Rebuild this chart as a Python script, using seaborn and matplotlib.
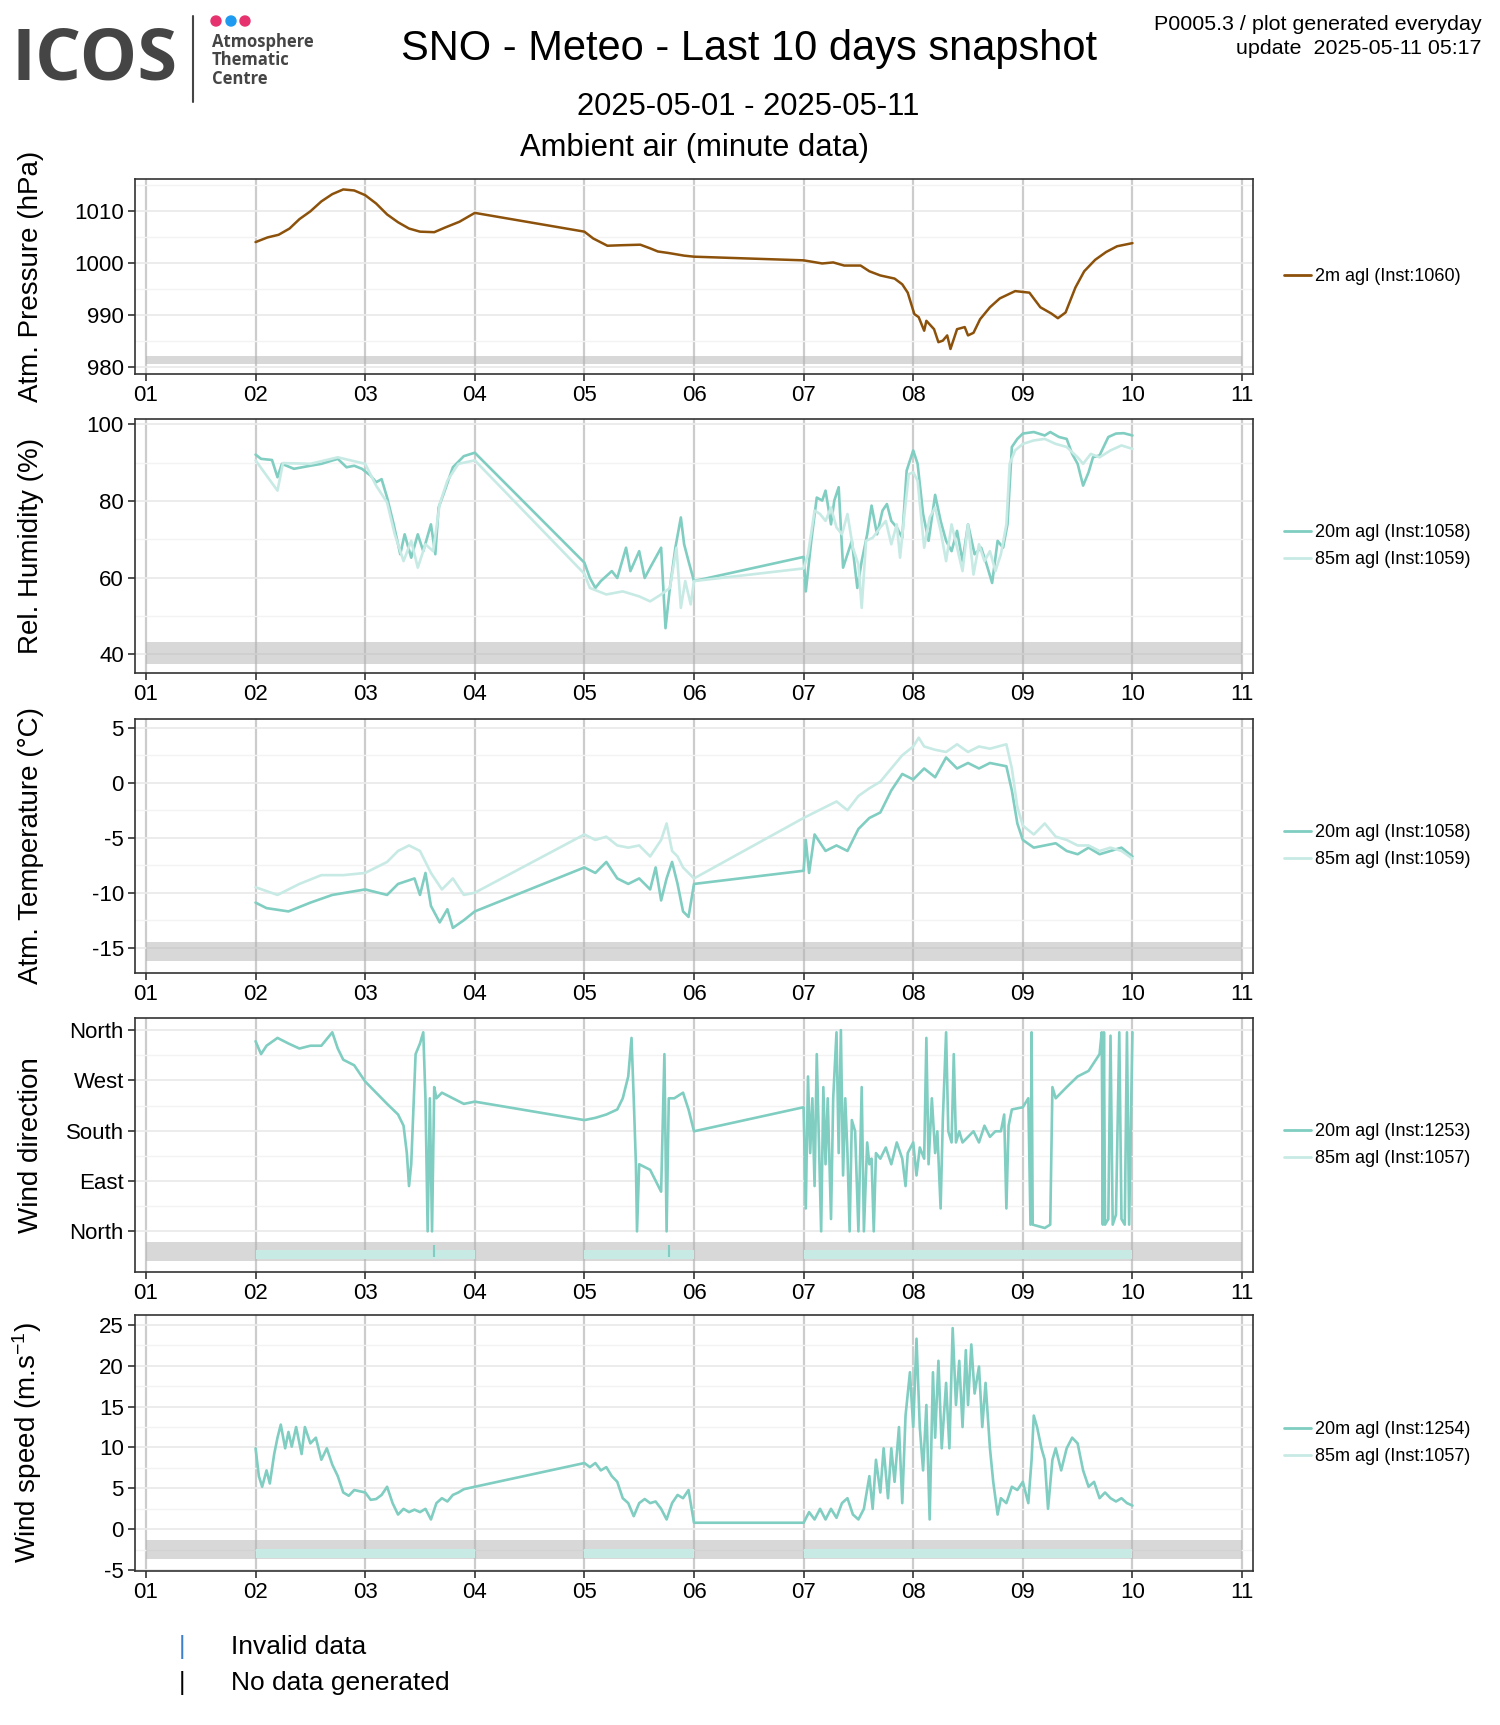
import numpy as np
import pandas as pd
import matplotlib
matplotlib.use("Agg")
import matplotlib.pyplot as plt
from matplotlib.lines import Line2D
from matplotlib.patches import Ellipse
import seaborn as sns

# ---- data (x = day of May 2025) ----
p_day = [2.0, 2.11, 2.21, 2.31, 2.40, 2.50, 2.60, 2.70, 2.80, 2.90, 3.00, 3.10, 3.20, 3.30, 3.40,
         3.50, 3.63, 3.73, 3.86, 4.0, 5.0, 5.08, 5.21, 5.34, 5.51, 5.60, 5.67, 5.77, 5.91, 6.0,
         7.0, 7.17, 7.27, 7.37, 7.52, 7.60, 7.70, 7.83, 7.90, 7.95, 8.01, 8.05, 8.10, 8.12, 8.19,
         8.23, 8.27, 8.31, 8.34, 8.40, 8.47, 8.50, 8.55, 8.61, 8.70, 8.79, 8.93, 9.06, 9.16, 9.26,
         9.32, 9.39, 9.48, 9.56, 9.66, 9.76, 9.86, 10.0]
p_hpa = [1004.0, 1004.9, 1005.4, 1006.6, 1008.4, 1009.9, 1011.8, 1013.2, 1014.1, 1013.9, 1013.0,
         1011.4, 1009.3, 1007.8, 1006.6, 1006.0, 1005.9, 1006.8, 1007.9, 1009.6, 1006.0, 1004.7,
         1003.3, 1003.4, 1003.5, 1002.8, 1002.2, 1001.9, 1001.4, 1001.2, 1000.5, 999.9, 1000.1,
         999.5, 999.5, 998.4, 997.6, 997.0, 995.9, 994.3, 990.2, 989.6, 987.0, 988.9, 987.3, 984.8,
         985.1, 986.1, 983.5, 987.3, 987.7, 986.1, 986.6, 989.2, 991.5, 993.2, 994.6, 994.3, 991.5,
         990.3, 989.4, 990.5, 995.3, 998.4, 1000.6, 1002.1, 1003.2, 1003.8]

rh20_day = [2.0, 2.05, 2.15, 2.2, 2.24, 2.35, 2.5, 2.6, 2.75, 2.83, 2.9, 2.97, 3.05, 3.1, 3.15, 3.2,
            3.26, 3.32, 3.36, 3.42, 3.48, 3.53, 3.6, 3.64, 3.67, 3.72, 3.8, 3.9, 4.0,
            5.0, 5.05, 5.1, 5.15, 5.25, 5.3, 5.38, 5.42, 5.5, 5.55, 5.6, 5.7, 5.74, 5.78, 5.83,
            5.88, 5.91, 5.95, 6.0,
            7.0, 7.02, 7.07, 7.12, 7.17, 7.2, 7.25, 7.28, 7.32, 7.36, 7.4, 7.44, 7.49, 7.53, 7.58,
            7.62, 7.67, 7.72, 7.76, 7.8, 7.85, 7.9, 7.94, 8.0, 8.04, 8.09, 8.14, 8.2, 8.25, 8.3,
            8.35, 8.4, 8.45, 8.5, 8.56, 8.62, 8.67, 8.72, 8.77, 8.82, 8.86, 8.9, 8.95, 9.0, 9.1,
            9.2, 9.25, 9.33, 9.4, 9.45, 9.5, 9.55, 9.6, 9.64, 9.7, 9.78, 9.85, 9.92, 10.0]
rh20_val = [92.1, 91.0, 90.7, 86.2, 89.7, 88.4, 89.2, 89.7, 91.0, 88.8, 89.2, 88.4, 86.6, 84.9, 85.7,
            80.9, 73.9, 66.1, 71.3, 65.2, 71.3, 66.9, 73.9, 66.1, 78.3, 82.2, 88.8, 91.7, 92.6,
            63.9, 59.9, 57.3, 59.1, 61.7, 59.9, 67.8, 61.7, 66.9, 59.9, 62.6, 67.8, 46.8, 57.3,
            67.8, 75.7, 68.7, 64.3, 59.1,
            65.4, 56.4, 69.6, 80.9, 80.1, 82.7, 73.9, 80.1, 83.6, 62.6, 66.1, 69.6, 57.3, 64.3,
            71.3, 78.8, 71.3, 77.5, 79.2, 74.8, 73.1, 70.4, 87.9, 93.2, 89.7, 76.6, 69.6, 81.6,
            74.8, 69.6, 66.9, 72.2, 64.3, 73.9, 66.1, 67.8, 63.4, 58.6, 69.6, 67.8, 73.9, 94.1,
            96.2, 97.6, 98.0, 97.1, 98.0, 96.7, 96.2, 92.3, 89.7, 84.0, 87.5, 91.4, 91.9, 96.7,
            97.6, 97.7, 97.1]
rh85_day = [2.0, 2.2, 2.25, 2.5, 2.75, 3.0, 3.1, 3.2, 3.27, 3.35, 3.42, 3.48, 3.55, 3.62, 3.68,
            3.75, 3.85, 4.0,
            5.0, 5.05, 5.2, 5.35, 5.5, 5.6, 5.7, 5.78, 5.84, 5.88, 5.92, 5.97, 6.0,
            7.0, 7.04, 7.1, 7.15, 7.2, 7.25, 7.3, 7.35, 7.4, 7.45, 7.5, 7.53, 7.57, 7.63, 7.7,
            7.75, 7.8, 7.85, 7.88, 7.92, 7.96, 8.0, 8.04, 8.1, 8.15, 8.2, 8.25, 8.3, 8.35, 8.4,
            8.45, 8.5, 8.55, 8.6, 8.65, 8.7, 8.75, 8.8, 8.85, 8.88, 8.93, 9.0, 9.1, 9.2, 9.3,
            9.4, 9.5, 9.55, 9.62, 9.7, 9.8, 9.9, 10.0]
rh85_val = [90.6, 82.7, 89.9, 89.7, 91.4, 89.7, 84.0, 79.6, 71.3, 64.3, 69.6, 62.6, 68.7, 66.9,
            79.2, 85.3, 89.7, 90.6,
            61.0, 57.3, 55.6, 56.4, 55.1, 53.8, 55.6, 57.3, 67.8, 52.1, 59.1, 53.0, 59.1,
            62.4, 66.1, 77.5, 76.6, 74.8, 78.3, 73.1, 71.3, 76.6, 67.8, 63.4, 52.1, 69.6, 70.4,
            73.1, 74.8, 68.7, 73.9, 65.2, 76.6, 87.0, 87.5, 85.3, 67.8, 75.7, 78.3, 72.2, 64.3,
            73.9, 67.8, 61.7, 73.9, 60.8, 68.7, 64.3, 66.9, 61.7, 66.1, 73.9, 89.7, 93.2, 94.9,
            95.8, 96.2, 94.9, 94.1, 91.4, 89.7, 92.3, 91.4, 93.2, 94.5, 93.6]

t20_day = [2.0, 2.1, 2.3, 2.5, 2.7, 3.0, 3.2, 3.3, 3.45, 3.5, 3.55, 3.6, 3.68, 3.75, 3.8, 3.9, 4.0,
           5.0, 5.1, 5.2, 5.3, 5.4, 5.5, 5.6, 5.65, 5.7, 5.75, 5.8, 5.85, 5.9, 5.95, 6.0,
           7.0, 7.02, 7.05, 7.1, 7.2, 7.3, 7.4, 7.5, 7.6, 7.7, 7.8, 7.9, 8.0, 8.1, 8.2, 8.3,
           8.4, 8.5, 8.6, 8.7, 8.85, 8.9, 8.95, 9.0, 9.1, 9.2, 9.3, 9.4, 9.5, 9.6, 9.7, 9.8,
           9.9, 10.0]
t20_val = [-10.9, -11.4, -11.7, -10.9, -10.2, -9.7, -10.2, -9.2, -8.7, -10.2, -8.2, -11.2, -12.7,
           -11.5, -13.2, -12.5, -11.7,
           -7.7, -8.2, -7.2, -8.7, -9.2, -8.7, -9.7, -7.7, -10.7, -8.7, -7.2, -9.2, -11.7, -12.2,
           -9.2,
           -8.0, -5.2, -8.2, -4.7, -6.2, -5.7, -6.2, -4.2, -3.2, -2.7, -0.7, 0.8, 0.3, 1.3, 0.5,
           2.3, 1.3, 1.8, 1.3, 1.8, 1.5, -0.7, -3.7, -5.2, -5.9, -5.7, -5.5, -6.2, -6.5, -5.9,
           -6.5, -6.2, -5.9, -6.7]
t85_day = [2.0, 2.2, 2.4, 2.6, 2.8, 3.0, 3.2, 3.3, 3.4, 3.5, 3.6, 3.7, 3.8, 3.9, 4.0,
           5.0, 5.1, 5.2, 5.3, 5.4, 5.5, 5.6, 5.7, 5.75, 5.8, 5.85, 5.9, 6.0,
           7.0, 7.1, 7.2, 7.3, 7.4, 7.5, 7.6, 7.7, 7.8, 7.9, 8.0, 8.05, 8.1, 8.2, 8.3, 8.4, 8.5,
           8.6, 8.7, 8.85, 8.9, 8.95, 9.0, 9.1, 9.2, 9.3, 9.4, 9.5, 9.6, 9.7, 9.8, 9.9, 10.0]
t85_val = [-9.5, -10.2, -9.2, -8.4, -8.4, -8.2, -7.2, -6.2, -5.7, -6.2, -8.2, -9.7, -8.7, -10.2,
           -10.0,
           -4.7, -5.2, -4.9, -5.7, -5.9, -5.7, -6.7, -5.2, -3.7, -6.2, -6.7, -7.7, -8.7,
           -3.2, -2.7, -2.2, -1.7, -2.5, -1.2, -0.5, 0.1, 1.3, 2.5, 3.3, 4.1, 3.3, 3.0, 2.8, 3.5,
           2.8, 3.3, 3.1, 3.5, 1.3, -2.2, -3.9, -4.7, -3.7, -4.9, -5.2, -5.7, -5.7, -6.2, -5.9,
           -6.2, -6.9]

wd_day = [2.0, 2.05, 2.1, 2.2, 2.3, 2.4, 2.5, 2.6, 2.7, 2.75, 2.8, 2.9, 3.0, 3.1, 3.2, 3.3, 3.35,
          3.38, 3.4, 3.42, 3.44, 3.46, 3.5, 3.53, 3.55, 3.57, 3.59, 3.61, 3.63, 3.65, 3.7, 3.8,
          3.9, 4.0,
          5.0, 5.1, 5.2, 5.3, 5.35, 5.4, 5.43, 5.45, 5.47, 5.48, 5.5, 5.6, 5.7, 5.73, 5.75, 5.77,
          5.82, 5.9, 5.95, 6.0,
          7.0, 7.02, 7.04, 7.06, 7.08, 7.1, 7.12, 7.14, 7.16, 7.18, 7.2, 7.22, 7.25, 7.27, 7.3,
          7.32, 7.34, 7.36, 7.38, 7.4, 7.42, 7.44, 7.47, 7.5, 7.53, 7.55, 7.58, 7.6, 7.62, 7.64,
          7.66, 7.7, 7.75, 7.8, 7.85, 7.9, 7.93, 7.95, 8.0, 8.03, 8.06, 8.1, 8.12, 8.14, 8.17,
          8.2, 8.22, 8.25, 8.27, 8.3, 8.32, 8.35, 8.37, 8.39, 8.42, 8.45, 8.5, 8.55, 8.6, 8.65,
          8.7, 8.75, 8.8, 8.83, 8.85, 8.87, 8.9, 9.0, 9.05, 9.07, 9.08, 9.09, 9.2, 9.25, 9.27,
          9.3, 9.4, 9.5, 9.6, 9.7, 9.72, 9.73, 9.74, 9.75, 9.78, 9.8, 9.82, 9.85, 9.88, 9.9, 9.93,
          9.95, 9.97, 10.0]
wd_deg = [340, 317, 332, 346, 336, 327, 332, 332, 356, 327, 307, 297, 268, 248, 228, 209, 189,
          140, 81, 120, 218, 317, 336, 356, 238, 0, 238, 0, 258, 238, 248, 238, 228, 232,
          199, 203, 209, 218, 238, 277, 346, 238, 120, 0, 120, 110, 71, 317, 0, 238, 238, 248,
          218, 179,
          222, 41, 277, 140, 238, 81, 317, 159, 0, 258, 120, 238, 22, 238, 356, 140, 360, 100,
          238, 140, 0, 199, 179, 0, 258, 0, 159, 120, 130, 0, 140, 130, 150, 120, 159, 130, 81,
          140, 159, 100, 150, 130, 346, 120, 238, 140, 179, 41, 199, 356, 179, 159, 317, 159,
          179, 159, 169, 179, 159, 189, 169, 179, 179, 209, 41, 189, 218, 222, 238, 12, 356, 12,
          6, 12, 258, 238, 258, 277, 287, 317, 356, 12, 356, 12, 22, 350, 12, 30, 356, 22, 12,
          356, 12, 356]

ws_day = [2.0, 2.03, 2.06, 2.1, 2.13, 2.17, 2.2, 2.23, 2.27, 2.3, 2.33, 2.37, 2.42, 2.45, 2.5,
          2.55, 2.6, 2.65, 2.7, 2.75, 2.8, 2.85, 2.9, 3.0, 3.05, 3.1, 3.15, 3.2, 3.25, 3.3, 3.35,
          3.4, 3.45, 3.5, 3.55, 3.6, 3.65, 3.7, 3.75, 3.8, 3.85, 3.9, 4.0,
          5.0, 5.05, 5.1, 5.15, 5.2, 5.25, 5.3, 5.35, 5.4, 5.45, 5.5, 5.55, 5.6, 5.65, 5.7, 5.75,
          5.8, 5.85, 5.9, 5.95, 6.0,
          7.0, 7.05, 7.1, 7.15, 7.2, 7.25, 7.3, 7.35, 7.4, 7.45, 7.5, 7.55, 7.6, 7.63, 7.66, 7.7,
          7.73, 7.77, 7.8, 7.83, 7.87, 7.9, 7.93, 7.97, 8.0, 8.03, 8.06, 8.09, 8.12, 8.15, 8.18,
          8.2, 8.23, 8.26, 8.3, 8.33, 8.36, 8.39, 8.42, 8.45, 8.48, 8.5, 8.53, 8.56, 8.6, 8.63,
          8.66, 8.7, 8.73, 8.77, 8.8, 8.85, 8.9, 8.95, 9.0, 9.05, 9.08, 9.1, 9.13, 9.17, 9.2,
          9.23, 9.27, 9.3, 9.35, 9.4, 9.45, 9.5, 9.55, 9.6, 9.65, 9.7, 9.75, 9.8, 9.85, 9.9,
          9.95, 10.0]
ws_val = [9.9, 6.5, 5.2, 7.2, 5.6, 9.2, 11.2, 12.8, 9.9, 11.9, 10.1, 12.5, 9.2, 12.5, 10.5, 11.2,
          8.5, 9.9, 7.9, 6.5, 4.5, 4.1, 4.8, 4.5, 3.6, 3.7, 4.2, 5.2, 3.2, 1.8, 2.5, 2.1, 2.4,
          2.1, 2.5, 1.2, 3.2, 3.8, 3.4, 4.2, 4.5, 4.9, 5.2,
          8.1, 7.6, 8.1, 7.2, 7.6, 6.5, 5.8, 3.8, 3.2, 1.6, 3.2, 3.7, 3.2, 3.4, 2.5, 1.2, 3.2,
          4.2, 3.8, 4.8, 0.8,
          0.8, 2.1, 1.2, 2.5, 1.2, 2.5, 1.4, 3.2, 3.8, 1.8, 1.2, 2.5, 6.5, 2.5, 8.5, 4.5, 9.9,
          3.8, 9.9, 5.8, 12.5, 3.2, 13.9, 19.2, 12.5, 23.3, 12.5, 7.2, 15.2, 1.2, 19.2, 11.2,
          20.6, 9.9, 17.9, 9.9, 24.6, 15.2, 20.6, 12.5, 21.9, 15.2, 22.6, 16.6, 19.9, 12.5, 17.9,
          9.9, 5.8, 1.8, 3.8, 3.2, 5.2, 4.8, 5.8, 3.2, 8.5, 13.9, 12.5, 9.9, 8.5, 2.5, 8.5, 9.9,
          7.2, 9.9, 11.2, 10.5, 7.2, 5.2, 5.8, 3.8, 4.5, 3.8, 3.4, 3.8, 3.2, 2.9]

# days with wind data generated
cov_start = [2, 5, 7]
cov_end = [4, 6, 10]
invalid_wd_day = [3.63, 5.77]

day_ticks = list(range(1, 12))
day_labels = [f"{d:02d}" for d in day_ticks]

BROWN = "#8c510a"
TEAL = "#80cdc1"
LIGHT = "#c7eae5"

sns.set_theme(style="white")
plt.rcParams["font.family"] = ["Liberation Sans", "DejaVu Sans"]
plt.rcParams["mathtext.fontset"] = "custom"
plt.rcParams["mathtext.rm"] = "Liberation Sans"
plt.rcParams["mathtext.it"] = "Liberation Sans"
plt.rcParams["text.color"] = "black"
plt.rcParams["axes.labelcolor"] = "black"
plt.rcParams["xtick.color"] = "black"
plt.rcParams["ytick.color"] = "black"

fig = plt.figure(figsize=(15, 17.25), dpi=100)

W, H = 1500, 1725
def add_panel(top, bottom):
    return fig.add_axes([135 / W, 1 - bottom / H, 1118 / W, (bottom - top) / H])

def style(ax, ylim, yticks, ylabels, yminor, band, ylabel):
    ax.set_xlim(0.9, 11.1)
    ax.set_ylim(*ylim)
    ax.set_xticks(day_ticks)
    ax.set_xticklabels(day_labels)
    ax.set_yticks(yticks)
    ax.set_yticklabels(ylabels)
    ax.set_yticks(yminor, minor=True)
    ax.set_axisbelow(True)
    ax.grid(which="major", axis="y", color="#ebebeb", lw=1.3)
    ax.grid(which="minor", axis="y", color="#f3f3f3", lw=1.0)
    ax.grid(which="major", axis="x", color="#cccccc", lw=1.6)
    ax.tick_params(which="major", length=5, width=1.2, color="#333333", labelsize=16,
                   labelcolor="black", pad=3, left=True, bottom=True)
    ax.tick_params(which="minor", length=0)
    for s in ax.spines.values():
        s.set_color("#333333")
        s.set_linewidth(1.2)
    ax.fill_between([1, 11], band[0], band[1], color="#b3b3b3", alpha=0.5, lw=0, zorder=1.5)
    ax.set_xlabel("")
    ax.set_ylabel(ylabel, fontsize=20, color="black")
    ax.yaxis.set_label_coords(-0.081, 0.5)

def legend(ax, entries):
    handles = [Line2D([0], [0], color=c, lw=2) for _, c in entries]
    ax.legend(handles, [t for t, _ in entries], loc="center left", bbox_to_anchor=(1.016, 0.5),
              frameon=False, fontsize=13, handlelength=1.5, handletextpad=0.25, labelspacing=0.55,
              borderaxespad=0.3)

LW = 1.9

# 1 pressure
ax1 = add_panel(179, 374)
sns.lineplot(x=p_day, y=p_hpa, ax=ax1, color=BROWN, lw=1.8, estimator=None, sort=False)
style(ax1, (978.7, 1016.1), [980, 990, 1000, 1010], ["980", "990", "1000", "1010"],
      [985, 995, 1005, 1015], (980.6, 982.1), "Atm. Pressure (hPa)")
legend(ax1, [("2m agl (Inst:1060)", BROWN)])

# 2 humidity
ax2 = add_panel(419, 673)
sns.lineplot(x=rh20_day, y=rh20_val, ax=ax2, color=TEAL, lw=LW, estimator=None, sort=False)
sns.lineplot(x=rh85_day, y=rh85_val, ax=ax2, color=LIGHT, lw=LW, estimator=None, sort=False)
style(ax2, (35.1, 101.4), [40, 60, 80, 100], ["40", "60", "80", "100"],
      [50, 70, 90], (37.4, 43.2), "Rel. Humidity (%)")
legend(ax2, [("20m agl (Inst:1058)", TEAL), ("85m agl (Inst:1059)", LIGHT)])

# 3 temperature
ax3 = add_panel(719, 973)
sns.lineplot(x=t20_day, y=t20_val, ax=ax3, color=TEAL, lw=LW, estimator=None, sort=False)
sns.lineplot(x=t85_day, y=t85_val, ax=ax3, color=LIGHT, lw=LW, estimator=None, sort=False)
style(ax3, (-17.3, 5.8), [-15, -10, -5, 0, 5], ["-15", "-10", "-5", "0", "5"],
      [-12.5, -7.5, -2.5, 2.5], (-16.2, -14.5), "Atm. Temperature (°C)")
legend(ax3, [("20m agl (Inst:1058)", TEAL), ("85m agl (Inst:1059)", LIGHT)])

# 4 wind direction
ax4 = add_panel(1018, 1272)
sns.lineplot(x=wd_day, y=wd_deg, ax=ax4, color=TEAL, lw=LW, estimator=None, sort=False)
style(ax4, (-72.7, 381.6), [0, 90, 180, 270, 360], ["North", "East", "South", "West", "North"],
      [45, 135, 225, 315], (-53, -19.6), "Wind direction")
for a, b in zip(cov_start, cov_end):
    ax4.fill_between([a, b], -49, -33, color=LIGHT, lw=0, zorder=2)
ax4.vlines(invalid_wd_day, -45, -25, color=TEAL, lw=1.5, zorder=2.5)
legend(ax4, [("20m agl (Inst:1253)", TEAL), ("85m agl (Inst:1057)", LIGHT)])

# 5 wind speed
ax5 = add_panel(1315, 1571)
sns.lineplot(x=ws_day, y=ws_val, ax=ax5, color=TEAL, lw=LW, estimator=None, sort=False)
style(ax5, (-5.1, 26.2), [-5, 0, 5, 10, 15, 20, 25], ["-5", "0", "5", "10", "15", "20", "25"],
      [-2.5, 2.5, 7.5, 12.5, 17.5, 22.5], (-3.66, -1.25), "Wind speed (m.s$^{-1}$)")
for a, b in zip(cov_start, cov_end):
    ax5.fill_between([a, b], -3.5, -2.45, color=LIGHT, lw=0, zorder=2)
legend(ax5, [("20m agl (Inst:1254)", TEAL), ("85m agl (Inst:1057)", LIGHT)])

# titles
fig.text(749 / W, 1 - 49 / H, "SNO - Meteo - Last 10 days snapshot", fontsize=30,
         ha="center", va="center")
fig.text(748 / W, 1 - 107 / H, "2025-05-01 - 2025-05-11", fontsize=22.3, ha="center", va="center")
fig.text(694 / W, 1 - 148 / H, "Ambient air (minute data)", fontsize=22.3, ha="center", va="center")
fig.text(1482 / W, 1 - 24 / H, "P0005.3 / plot generated everyday", fontsize=15.4,
         ha="right", va="center")
fig.text(1482 / W, 1 - 49 / H, "update  2025-05-11 05:17", fontsize=15.4, ha="right", va="center")

# logo
fig.text(11 / W, 1 - 60 / H, "ICOS", fontsize=52, fontweight="bold", color="#454545",
         family="Open Sans", va="center", ha="left")
fig.add_artist(Line2D([193 / W, 193 / W], [1 - 16 / H, 1 - 102 / H], color="#454545", lw=1.5))
for cx, col in zip([216, 231, 245], ["#e6336f", "#1e9bf0", "#e6336f"]):
    fig.add_artist(Ellipse((cx / W, 1 - 21 / H), 10 / W, 10 / H, color=col))
for yy, word in zip([42, 60, 79], ["Atmosphere", "Thematic", "Centre"]):
    fig.text(212 / W, 1 - yy / H, word, fontsize=12, fontweight="bold", color="#454545",
             family="Open Sans", va="center", ha="left")

# bottom key
fig.text(182 / W, 1 - 1647 / H, "|", fontsize=18, color="#3d7fcc", ha="center", va="center")
fig.text(231 / W, 1 - 1647 / H, "Invalid data", fontsize=19, ha="left", va="center")
fig.text(182 / W, 1 - 1683 / H, "|", fontsize=18, color="black", ha="center", va="center")
fig.text(231 / W, 1 - 1683 / H, "No data generated", fontsize=19, ha="left", va="center")

fig.savefig("out.png", dpi=100)
